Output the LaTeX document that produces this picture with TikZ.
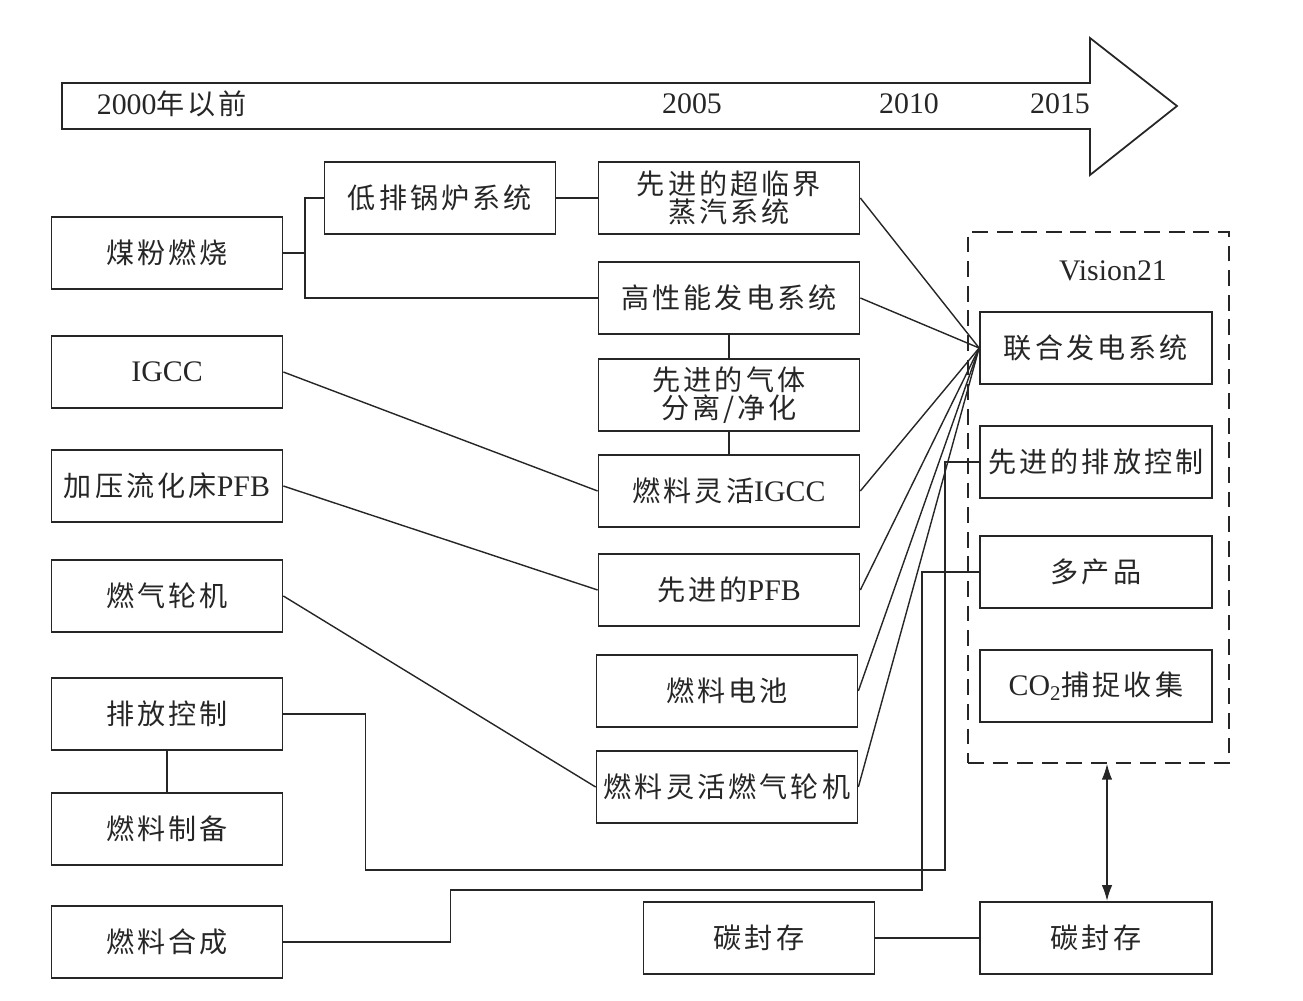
\documentclass[tikz,border=0pt]{standalone}
\usepackage{fontspec}
\setmainfont{Liberation Serif}
\newfontfamily\cjk[LetterSpace=11]{Noto Sans CJK SC}
\newcommand\zh[1]{{\cjk\fontsize{16}{16}\selectfont #1}}
\usetikzlibrary{fit,arrows.meta}
\begin{document}
\begin{tikzpicture}[x=0.02cm,y=-0.02cm,>={Latex[length=9pt,width=6pt]},
  line width=0.8pt,color=black!85,
  every node/.style={font=\fontsize{17}{16}\selectfont,inner sep=1pt,align=center},
  box/.style={draw,line width=1pt,minimum height=1.45cm},
  lbox/.style={box,minimum width=4.62cm},
  mbox/.style={box,minimum width=5.22cm},
  rbox/.style={box,minimum width=4.64cm}]
\useasboundingbox (0,0) rectangle (1303,1001);
% time axis
\draw[line width=1pt](62,83)--(1090,83)--(1090,38)--(1177,106)--(1090,175)--(1090,129)--(62,129)--cycle;
\node (y2000) at (172,104) {2000\zh{年以前}};
\node (y2005) at (692,104) {2005};
\node (y2010) at (909,104) {2010};
\node (y2015) at (1060,104) {2015};

\node[lbox] (mf) at (167,253) {\zh{煤粉燃烧}};
\node[lbox] (igcc) at (167,372) {IGCC};
\node[lbox] (pfb) at (167,486) {\zh{加压流化床}PFB};
\node[lbox] (rq) at (167,596) {\zh{燃气轮机}};
\node[lbox] (pk) at (167,714) {\zh{排放控制}};
\node[lbox] (zb) at (167,829) {\zh{燃料制备}};
\node[lbox] (hc) at (167,942) {\zh{燃料合成}};
\node[lbox] (dp) at (440,198) {\zh{低排锅炉系统}};

\node[mbox] (cj) at (729,198) {\zh{先进的超临界}\\\zh{蒸汽系统}};
\node[mbox] (gx) at (729,298) {\zh{高性能发电系统}};
\node[mbox] (qt) at (729,395) {\zh{先进的气体}\\\zh{分离/净化}};
\node[mbox] (igcc2) at (729,491) {\zh{燃料灵活}IGCC};
\node[mbox] (pfb2) at (729,590) {\zh{先进的}PFB};
\node[mbox] (dc) at (727,691) {\zh{燃料电池}};
\node[mbox] (rq2) at (727,787) {\zh{燃料灵活燃气轮机}};
\node[lbox] (fc1) at (759,938) {\zh{碳封存}};

\node (v21) at (1113,271) {Vision21};
\node[rbox] (lh) at (1096,348) {\zh{联合发电系统}};
\node[rbox] (xp) at (1096,462) {\zh{先进的排放控制}};
\node[rbox] (dcp) at (1096,572) {\zh{多产品}};
\node[rbox] (co2) at (1096,686) {CO\textsubscript{2}\zh{捕捉收集}};
\node[rbox] (fc2) at (1096,938) {\zh{碳封存}};
\node[draw,line width=1pt,dash pattern=on 9pt off 5pt,inner sep=0pt,fit={(968,232) (1229,763)}] (vision) {};

% connectors
\coordinate (fork) at (305,253);
\draw (mf.east)--(fork);
\draw (dp.west)-|(fork)|-(gx.west);
\draw (dp.east)--(cj.west);
\draw (gx.south)--(qt.north);
\draw (qt.south)--(igcc2.north);
\draw (igcc.east)--(igcc2.west);
\draw (pfb.east)--(pfb2.west);
\draw (rq.east)--(rq2.west);
\foreach \n in {cj,gx,igcc2,pfb2,dc,rq2}
  \draw (\n.east)--(lh.west);
\draw (pk.south)--(zb.north);
\coordinate (r1) at (945,870);
\coordinate (r2) at (922,890);
\draw (pk.east)--++(82,0)|-(r1)|-(xp.west);
\draw (hc.east)--++(167,0)|-(r2)|-(dcp.west);
\draw (fc1)--(fc2);
\draw[<->] ([xshift=0.22cm]fc2.north)--([xshift=0.22cm]fc2.north |- vision.south);
\end{tikzpicture}
\end{document}
